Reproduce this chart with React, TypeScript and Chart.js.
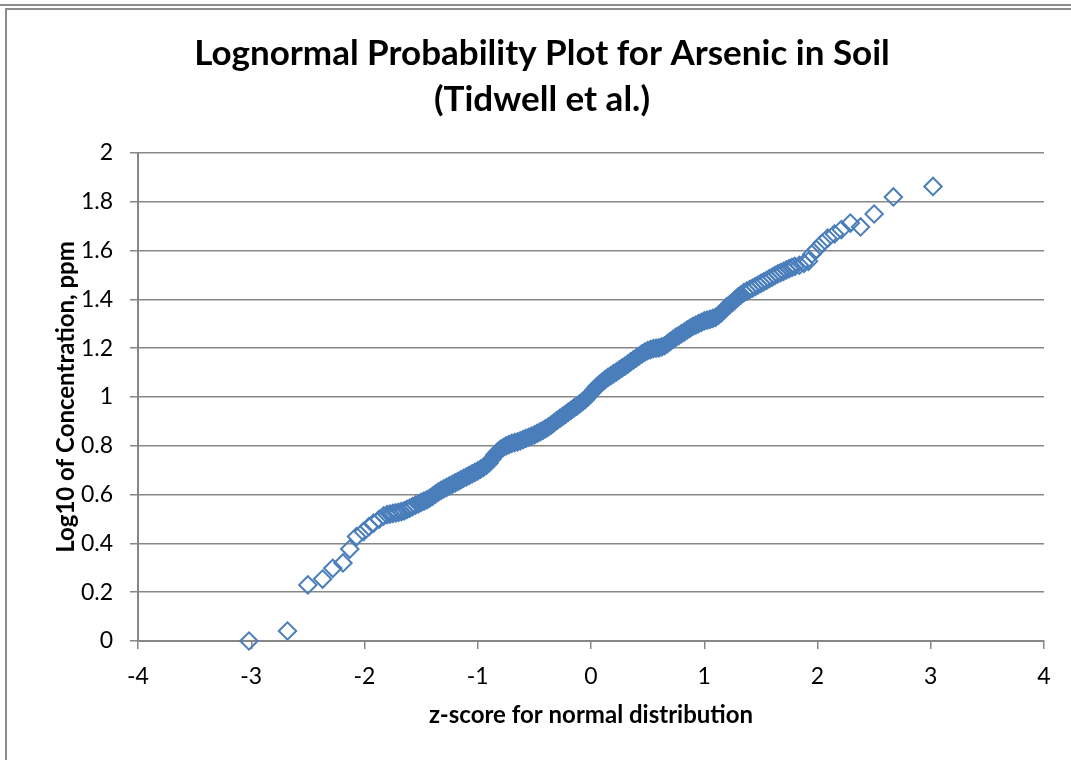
import React, { useEffect, useRef } from "react";
import { Chart, registerables } from "chart.js";

Chart.register(...registerables);

const chartTitle = ["Lognormal Probability Plot for Arsenic in Soil", "(Tidwell et al.)"];
const xAxisTitle = "z-score for normal distribution";
const yAxisTitle = "Log10 of Concentration, ppm";

const xTickStep = 1;
const yTickStep = 0.2;

// z-score of each sample (normal quantile of its rank)
const zScores = [
  -3.02, -2.68, -2.5, -2.37, -2.28, -2.19, -2.13, -2.07, -2.01, -1.96, -1.92, -1.87, -1.83,
  -1.8, -1.775, -1.75, -1.725, -1.7, -1.675, -1.65, -1.625, -1.6, -1.575,
  -1.55, -1.525, -1.5, -1.475, -1.45, -1.425, -1.4, -1.375, -1.35, -1.325,
  -1.3, -1.275, -1.25, -1.225, -1.2, -1.175, -1.15, -1.125, -1.1, -1.075,
  -1.05, -1.025, -1.0, -0.975, -0.95, -0.925, -0.9, -0.875, -0.85, -0.825,
  -0.8, -0.775, -0.75, -0.725, -0.7, -0.675, -0.65, -0.625, -0.6, -0.575,
  -0.55, -0.525, -0.5, -0.475, -0.45, -0.425, -0.4, -0.375, -0.35, -0.325,
  -0.3, -0.275, -0.25, -0.225, -0.2, -0.175, -0.15, -0.125, -0.1, -0.075,
  -0.05, -0.025, 0.0, 0.025, 0.05, 0.075, 0.1, 0.125, 0.15, 0.175,
  0.2, 0.225, 0.25, 0.275, 0.3, 0.325, 0.35, 0.375, 0.4, 0.425,
  0.45, 0.475, 0.5, 0.525, 0.55, 0.575, 0.6, 0.625, 0.65, 0.675,
  0.7, 0.725, 0.75, 0.775, 0.8, 0.825, 0.85, 0.875, 0.9, 0.925,
  0.95, 0.975, 1.0, 1.025, 1.05, 1.075, 1.1, 1.125, 1.15, 1.175,
  1.2, 1.225, 1.25, 1.275, 1.3, 1.325, 1.35, 1.375, 1.4, 1.425,
  1.45, 1.475, 1.5, 1.525, 1.55, 1.575, 1.6, 1.625, 1.65, 1.675,
  1.7, 1.725, 1.75, 1.775, 1.8,
  1.84, 1.88, 1.92, 1.95, 1.99, 2.04, 2.09, 2.15, 2.21, 2.29, 2.38, 2.5, 2.67, 3.02,
];

// log10 of arsenic concentration (ppm) for each sample
const log10Conc = [
  0.0, 0.041, 0.23, 0.254, 0.298, 0.32, 0.377, 0.428, 0.448, 0.469, 0.483, 0.499, 0.513,
  0.518, 0.52, 0.523, 0.525, 0.527, 0.53, 0.533, 0.539, 0.545, 0.551,
  0.557, 0.562, 0.568, 0.573, 0.578, 0.585, 0.593, 0.602, 0.61, 0.617,
  0.623, 0.63, 0.636, 0.642, 0.648, 0.654, 0.66, 0.667, 0.673, 0.679,
  0.685, 0.691, 0.697, 0.704, 0.712, 0.72, 0.73, 0.746, 0.762, 0.775,
  0.785, 0.793, 0.8, 0.805, 0.81, 0.813, 0.816, 0.82, 0.825, 0.83,
  0.835, 0.84, 0.845, 0.851, 0.857, 0.863, 0.87, 0.878, 0.886, 0.895,
  0.904, 0.912, 0.921, 0.929, 0.938, 0.946, 0.955, 0.963, 0.972, 0.981,
  0.99, 1.002, 1.015, 1.028, 1.042, 1.052, 1.062, 1.071, 1.08, 1.088,
  1.096, 1.103, 1.111, 1.119, 1.127, 1.135, 1.144, 1.152, 1.16, 1.168,
  1.177, 1.184, 1.19, 1.194, 1.198, 1.2, 1.201, 1.205, 1.21, 1.219,
  1.228, 1.236, 1.245, 1.252, 1.26, 1.267, 1.275, 1.282, 1.29, 1.295,
  1.301, 1.306, 1.312, 1.315, 1.318, 1.322, 1.326, 1.335, 1.345, 1.357,
  1.37, 1.379, 1.388, 1.399, 1.41, 1.419, 1.428, 1.434, 1.44, 1.446,
  1.452, 1.459, 1.466, 1.472, 1.478, 1.485, 1.491, 1.498, 1.505, 1.51,
  1.515, 1.521, 1.526, 1.531, 1.535,
  1.54, 1.548, 1.556, 1.585, 1.605, 1.63, 1.651, 1.668, 1.686, 1.713, 1.697, 1.75, 1.82, 1.863,
];

const BLUE = "#4a7ebb";
const GRID = "#878787";
const FONT = "Lato, 'Open Sans', sans-serif";

export default function App() {
  const ref = useRef<HTMLCanvasElement>(null);

  useEffect(() => {
    const points = zScores.map((x, i) => ({ x, y: log10Conc[i] }));
    const chart = new Chart(ref.current as HTMLCanvasElement, {
      type: "scatter",
      data: {
        datasets: [
          {
            label: "Arsenic",
            data: points,
            pointStyle: "rectRot",
            pointRadius: 8.7,
            pointBorderWidth: 2,
            pointBorderColor: BLUE,
            pointBackgroundColor: (ctx: any) => {
              const r = ctx.raw;
              return r && r.x > -1.55 && r.x < 1.35 ? BLUE : "rgba(0,0,0,0)";
            },
            clip: false,
          } as any,
        ],
      },
      options: {
        responsive: false,
        animation: false,
        events: [],
        layout: { padding: { left: 40, right: 27, top: 0, bottom: 0 } },
        plugins: {
          legend: { display: false },
          tooltip: { enabled: false },
          title: {
            display: true,
            text: chartTitle,
            color: "#000",
            font: { family: FONT, size: 35, weight: "bold", lineHeight: "46px" as any },
            padding: { top: 31, bottom: 30 },
          },
        },
        scales: {
          x: {
            type: "linear",
            position: "bottom",
            min: -4,
            max: 4,
            afterFit: (s: any) => {
              s.height = 119;
            },
            ticks: {
              stepSize: xTickStep,
              color: "#000",
              font: { family: FONT, size: 23 },
              padding: 14,
            },
            grid: {
              drawOnChartArea: false,
              drawTicks: true,
              tickLength: 8,
              color: GRID,
              lineWidth: 1.5,
            },
            border: { color: GRID, width: 2 },
            title: {
              display: true,
              text: xAxisTitle,
              color: "#000",
              font: { family: FONT, size: 24, weight: "bold" },
              padding: { top: 0, bottom: 30 },
            },
          },
          y: {
            type: "linear",
            min: 0,
            max: 2,
            afterFit: (s: any) => {
              s.width = 98;
            },
            ticks: {
              stepSize: yTickStep,
              color: "#000",
              font: { family: FONT, size: 23 },
              padding: 17,
              callback: (v: any) => String(Math.round(Number(v) * 10) / 10),
            },
            grid: {
              color: GRID,
              lineWidth: 1.5,
              tickLength: 8,
            },
            border: { color: GRID, width: 2 },
            title: {
              display: true,
              text: yAxisTitle,
              color: "#000",
              font: { family: FONT, size: 24, weight: "bold" },
              padding: { top: 12, bottom: 0 },
            },
          },
        },
      } as any,
    });
    return () => chart.destroy();
  }, []);

  return (
    <div
      style={{
        position: "fixed",
        left: 0,
        top: 0,
        width: 1071,
        height: 760,
        background: "#fff",
        overflow: "hidden",
      }}
    >
      <div style={{ position: "absolute", left: 0, top: 4, width: 1071, height: 2, background: "#8c8c8c" }} />
      <div
        style={{
          position: "absolute",
          left: 5,
          top: 8,
          width: 1200,
          height: 900,
          borderLeft: "2px solid #8c8c8c",
          borderTop: "2px solid #8c8c8c",
        }}
      />
      <canvas ref={ref} width={1071} height={760} style={{ position: "absolute", left: 0, top: 0 }} />
    </div>
  );
}
